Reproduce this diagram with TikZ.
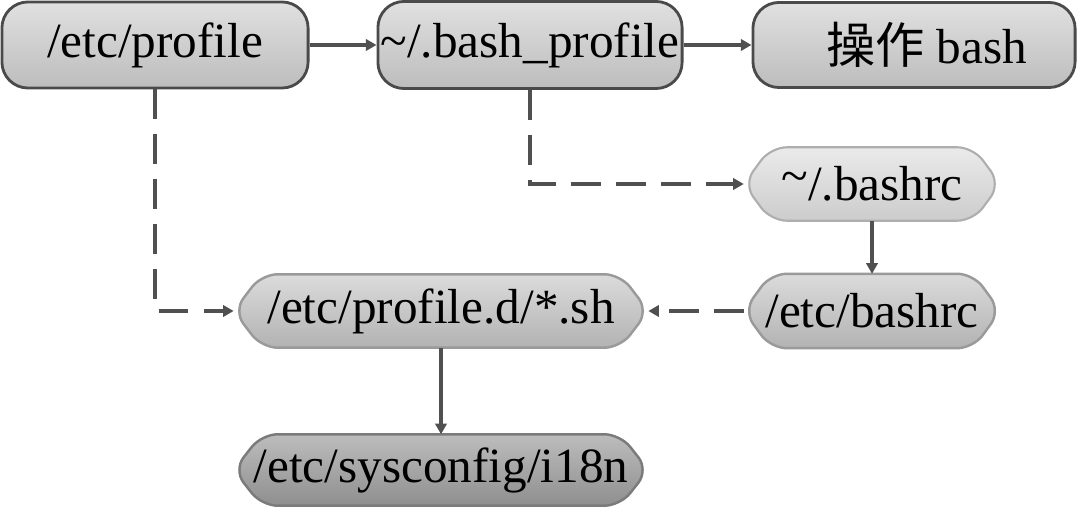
\documentclass[tikz,border=0pt]{standalone}
\usepackage{fontspec}
\setmainfont{Liberation Serif}
\newfontfamily\cjk{Noto Sans CJK SC}
\usetikzlibrary{arrows.meta,backgrounds}
\definecolor{lineclr}{HTML}{505050}
\definecolor{bordA}{HTML}{4A4A4A}
\definecolor{bordB}{HTML}{9A9A9A}
\newcommand\myhexbox[3]{%
  \path[#3] ([xshift=#2]#1.north west) -- ([xshift=-#2]#1.north east) --
    (#1.east) -- ([xshift=-#2]#1.south east) -- ([xshift=#2]#1.south west) --
    (#1.west) -- cycle;}
\begin{document}
\begin{tikzpicture}[x=0.01cm,y=-0.01cm,
  font=\fontsize{14}{16}\selectfont,
  topbox/.style={rectangle, rounded corners=0.26cm, draw=bordA, line width=0.8pt,
    top color=white!88!black, bottom color=white!74!black, inner sep=0pt},
  hexnode/.style={rectangle, inner sep=0pt},
  hexlight/.style={rounded corners=0.16cm, draw=bordB!80!white, line width=0.6pt,
    top color=white!92!black, bottom color=white!80!black},
  hexmid/.style={rounded corners=0.16cm, draw=bordB, line width=0.7pt,
    top color=white!86!black, bottom color=white!70!black},
  hexdark/.style={rounded corners=0.16cm, draw=bordB!80!black, line width=0.7pt,
    top color=white!74!black, bottom color=white!56!black},
  conn/.style={draw=lineclr, line width=0.9pt, -{Triangle[length=3pt,width=3.2pt]}},
  dconn/.style={conn, dash pattern=on 8.5pt off 4.3pt}]
\useasboundingbox (0,0) rectangle (1080,513);
\node[topbox, minimum width=3.06cm, minimum height=0.86cm] (prof) at (155,45) {/etc/profile};
\node[topbox, minimum width=3.04cm, minimum height=0.87cm] (bprof) at (530,45) {\textasciitilde/.bash\_profile};
\node[topbox, minimum width=3.22cm, minimum height=0.85cm] (op) at (914,45) {\hspace{0.25cm}{\cjk 操作} bash};
\node[hexnode, minimum width=2.55cm, minimum height=0.72cm] (brc) at (872,184) {\raisebox{0.35ex}{\textasciitilde}/.bashrc};
\node[hexnode, minimum width=2.55cm, minimum height=0.73cm] (ebrc) at (872,311) {/etc/bashrc};
\node[hexnode, minimum width=4.13cm, minimum height=0.72cm] (pd) at (441,311) {/etc/profile.d/*.sh};
\node[hexnode, minimum width=4.13cm, minimum height=0.70cm] (i18n) at (441,470) {/etc/sysconfig/i18n};
\begin{scope}[on background layer]
  \myhexbox{brc}{0.27cm}{hexlight}
  \myhexbox{ebrc}{0.27cm}{hexmid}
  \myhexbox{pd}{0.28cm}{hexmid}
  \myhexbox{i18n}{0.28cm}{hexdark}
\end{scope}
\draw[conn] (prof) -- (bprof);
\draw[conn] (bprof) -- (op);
\draw[dconn] (prof.south) |- (pd.west);
\draw[dconn] (bprof.south) |- (brc.west);
\draw[conn] (brc) -- (ebrc);
\draw[dconn] (ebrc) -- (pd);
\draw[conn] (pd) -- (i18n);
\end{tikzpicture}
\end{document}
